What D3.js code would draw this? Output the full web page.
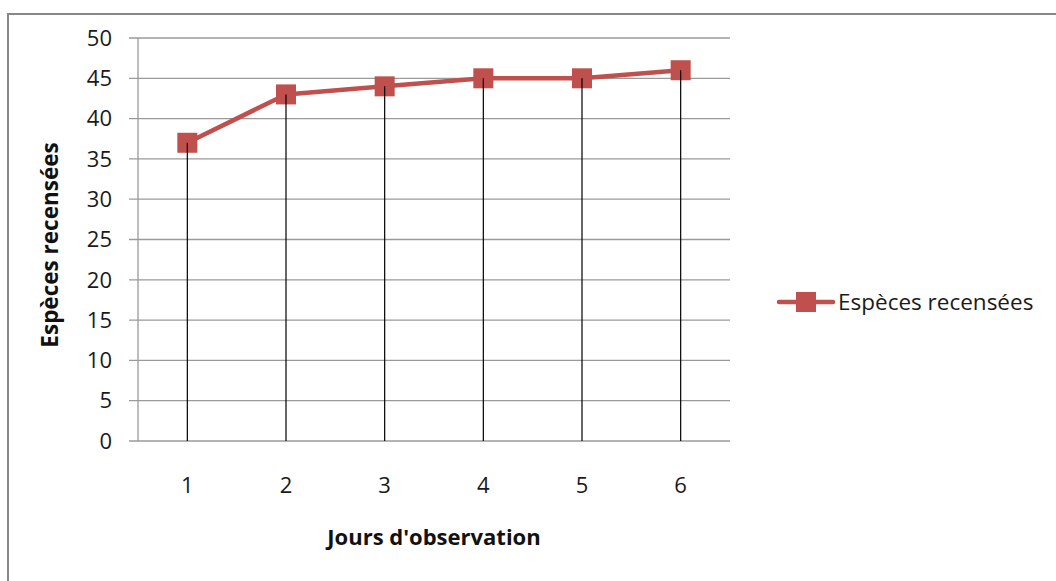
<!DOCTYPE html>
<html><head><meta charset="utf-8">
<script src="https://cdn.jsdelivr.net/npm/d3@7"></script>
<style>body{margin:0;background:#fff}svg{display:block}</style>
</head><body>
<svg id="c" width="1056" height="581"></svg>
<script>
const categories = ["1","2","3","4","5","6"];
const values = [37, 43, 44, 45, 45, 46];
const yTicks = [0,5,10,15,20,25,30,35,40,45,50];
const seriesName = "Espèces recensées";
const xTitle = "Jours d'observation";
const yTitle = "Espèces recensées";

const svg = d3.select("#c");
const font = "'Open Sans', sans-serif";
const red = "#C0504D";
const L = 138, R = 730, T = 38, B = 441;

svg.append("rect").attr("x", 8).attr("y", 14).attr("width", 1100).attr("height", 700)
  .attr("fill", "#fff").attr("stroke", "#888").attr("stroke-width", 2);

const x = d3.scaleBand().domain(categories).range([L, R]);
const y = d3.scaleLinear().domain([0, 50]).range([B, T]);

// gridlines
svg.append("g").selectAll("line").data(yTicks).join("line")
  .attr("x1", L - 9).attr("x2", R).attr("y1", d => y(d)).attr("y2", d => y(d))
  .attr("stroke", "#9a9a9a").attr("stroke-width", 1.3);
// y axis line
svg.append("line").attr("x1", L).attr("x2", L).attr("y1", T).attr("y2", B)
  .attr("stroke", "#9a9a9a").attr("stroke-width", 1.3);

// y tick labels
svg.append("g").selectAll("text").data(yTicks).join("text")
  .attr("x", 112).attr("y", d => y(d)).attr("dy", "0.35em")
  .attr("text-anchor", "end").attr("font-family", font).attr("font-size", 22)
  .attr("fill", "#1a1a1a").text(d => d);

// x tick labels
svg.append("g").selectAll("text").data(categories).join("text")
  .attr("x", d => x(d) + x.bandwidth()/2).attr("y", 485).attr("dy", "0.35em")
  .attr("text-anchor", "middle").attr("font-family", font).attr("font-size", 22)
  .attr("fill", "#1a1a1a").text(d => d);

const cx = (d, i) => x(categories[i]) + x.bandwidth()/2;

// drop lines
svg.append("g").selectAll("line").data(values).join("line")
  .attr("x1", cx).attr("x2", cx).attr("y1", d => y(d)).attr("y2", y(0))
  .attr("stroke", "#000").attr("stroke-width", 1.2);

// series line
const line = d3.line().x((d, i) => cx(d, i)).y(d => y(d));
svg.append("path").datum(values).attr("d", line).attr("fill", "none")
  .attr("stroke", red).attr("stroke-width", 4.5).attr("stroke-linejoin", "round");

// markers
svg.append("g").selectAll("rect").data(values).join("rect")
  .attr("x", (d, i) => cx(d, i) - 10).attr("y", d => y(d) - 10)
  .attr("width", 20).attr("height", 20).attr("fill", red);
svg.append("g").selectAll("line").data(values).join("line")
  .attr("x1", cx).attr("x2", cx).attr("y1", d => y(d)).attr("y2", d => y(d) + 10)
  .attr("stroke", "#000").attr("stroke-width", 1.2);

// axis titles
svg.append("text").attr("x", 434).attr("y", 537).attr("dy", "0.35em")
  .attr("text-anchor", "middle").attr("font-family", font).attr("font-size", 22)
  .attr("font-weight", "bold").attr("fill", "#111").text(xTitle);
svg.append("text").attr("transform", "translate(50,245) rotate(-90)").attr("dy", "0.35em")
  .attr("text-anchor", "middle").attr("font-family", font).attr("font-size", 22.5)
  .attr("font-weight", "bold").attr("fill", "#111").text(yTitle);

// legend
const lg = svg.append("g").attr("transform", "translate(0,302)");
lg.append("line").attr("x1", 779).attr("x2", 833).attr("y1", 0).attr("y2", 0)
  .attr("stroke", red).attr("stroke-width", 4.5).attr("stroke-linecap", "round");
lg.append("rect").attr("x", 796).attr("y", -10).attr("width", 20).attr("height", 20).attr("fill", red);
lg.append("text").attr("x", 838).attr("y", 0).attr("dy", "0.35em")
  .attr("font-family", font).attr("font-size", 22.5).attr("fill", "#1a1a1a").text(seriesName);
</script>
</body></html>
